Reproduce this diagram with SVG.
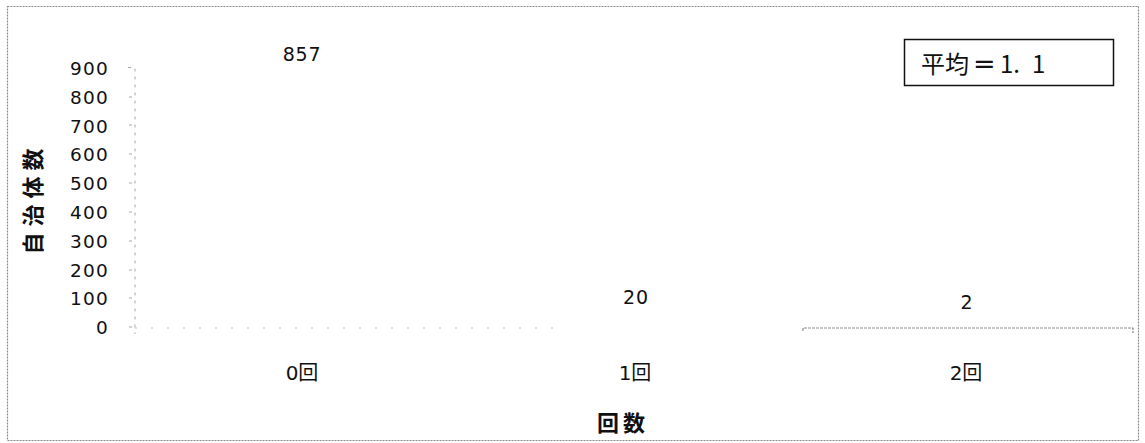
<svg xmlns="http://www.w3.org/2000/svg" width="1145" height="443" viewBox="0 0 1145 443">
<style>
.frame{fill:#fff;stroke:#8a8a8a;stroke-width:1.2;stroke-dasharray:2 1}
.axis{fill:none;stroke:#a8a8a8;stroke-width:1;stroke-dasharray:3 5}
.faint{fill:none;stroke:#c4c4c4;stroke-width:1;stroke-dasharray:2 14}
.bar{fill:none;stroke:#8a8a8a;stroke-width:1.2;stroke-dasharray:3 1}
.tick{font-family:"DejaVu Sans","Noto Sans",sans-serif;font-size:18.5px;fill:#111;text-anchor:end;letter-spacing:1.2px}
.val{font-family:"DejaVu Sans","Noto Sans",sans-serif;font-size:19px;fill:#111;text-anchor:middle;letter-spacing:0.8px}
.cat{font-family:"DejaVu Sans","Noto Sans CJK JP",sans-serif;font-size:20px;fill:#111;text-anchor:middle}
.title{font-family:"Noto Sans CJK JP",sans-serif;font-size:22px;font-weight:bold;fill:#111;text-anchor:middle}
.avg{font-family:"Noto Sans CJK JP",sans-serif;font-size:24px;fill:#111}
.eq{font-family:"DejaVu Sans",sans-serif;font-size:27px}
</style>
<rect class="frame" x="7.5" y="6.5" width="1131" height="434"/>
<g id="axes">
<path class="axis" d="M128,67.5 H135 V334"/>
<path class="axis" d="M129,97 h4 M129,125 h4 M129,154 h4 M129,183 h4 M129,212 h4 M129,241 h4 M129,270 h4 M129,298 h4 M129,327 h4"/>
<path class="faint" d="M135,328 H560"/>
<path class="bar" d="M803,331 V328 H1133 V333"/>
</g>
<g id="y-labels">
<text class="tick" x="109" y="75">900</text>
<text class="tick" x="109" y="104">800</text>
<text class="tick" x="109" y="133">700</text>
<text class="tick" x="109" y="161">600</text>
<text class="tick" x="109" y="190">500</text>
<text class="tick" x="109" y="219">400</text>
<text class="tick" x="109" y="248">300</text>
<text class="tick" x="109" y="277">200</text>
<text class="tick" x="109" y="305">100</text>
<text class="tick" x="109" y="334">0</text>
</g>
<g id="values">
<text class="val" x="302" y="61">857</text>
<text class="val" x="636" y="304">20</text>
<text class="val" x="967" y="309">2</text>
</g>
<g id="x-labels">
<text class="cat" x="302" y="380">0回</text>
<text class="cat" x="635" y="380">1回</text>
<text class="cat" x="966" y="380">2回</text>
</g>
<text class="title" x="623" y="431" letter-spacing="4">回数</text>
<text class="title" transform="translate(41,198.5) rotate(-90)" letter-spacing="6">自治体数</text>
<g id="avg-box">
<rect x="904.5" y="39.5" width="209" height="46" fill="#fff" stroke="#111" stroke-width="1.5"/>
<text class="avg" y="73"><tspan x="921">平均</tspan><tspan class="eq" x="973">=</tspan><tspan x="1000">1.</tspan><tspan x="1032">1</tspan></text>
</g>
</svg>
